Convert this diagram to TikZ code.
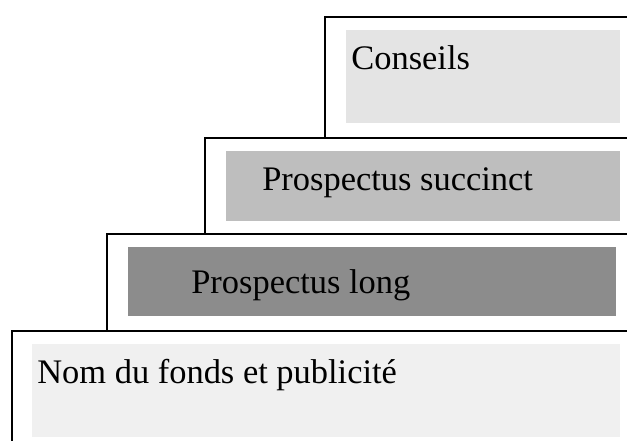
\documentclass[tikz,border=0pt]{standalone}
\usepackage{fontspec}
\setmainfont{Liberation Serif}
\usepackage{xcolor}
\usetikzlibrary{positioning}
\definecolor{grisconseil}{HTML}{E4E4E4}
\definecolor{grissuccinct}{HTML}{BEBEBE}
\definecolor{grislong}{HTML}{8C8C8C}
\definecolor{grisnom}{HTML}{F0F0F0}
\tikzstyle{cadre} = [line width=1.1pt, draw=black]
\tikzstyle{bloc} = [rectangle, anchor=north west, inner sep=0pt, draw=none]
\tikzstyle{titre} = [anchor=base west, inner sep=0pt, font=\fontsize{19.6}{23}\selectfont]

\begin{document}
\begin{tikzpicture}[x=0.02cm, y=-0.02cm]
   \useasboundingbox (0,0) rectangle (627,441);
   % marches
   \draw [cadre] (627,17) -- (325,17) -- (325,138);
   \draw [cadre] (627,138) -- (205,138) -- (205,234);
   \draw [cadre] (627,234) -- (107,234) -- (107,331);
   \draw [cadre] (627,331) -- (12,331) -- (12,441);
   % blocs
   \node (conseils) [bloc, fill=grisconseil, minimum width=5.48cm, minimum height=1.86cm] at (346,30) {};
   \node (succinct) [bloc, fill=grissuccinct, minimum width=7.88cm, minimum height=1.4cm] at (226,151) {};
   \node (long) [bloc, fill=grislong, minimum width=9.76cm, minimum height=1.38cm] at (128,247) {};
   \node (nom) [bloc, fill=grisnom, minimum width=11.76cm, minimum height=1.86cm] at (32,344) {};
   \node (tconseils) [titre] at ([xshift=0.1cm, yshift=-0.78cm]conseils.north west) {Conseils};
   \node (tsuccinct) [titre] at ([xshift=0.72cm, yshift=-0.79cm]succinct.north west) {Prospectus succinct};
   \node (tlong) [titre] at ([xshift=1.26cm, yshift=-0.93cm]long.north west) {Prospectus long};
   \node (tnom) [titre] at ([xshift=0.1cm, yshift=-0.78cm]nom.north west) {Nom du fonds et publicité};
\end{tikzpicture}
\end{document}
